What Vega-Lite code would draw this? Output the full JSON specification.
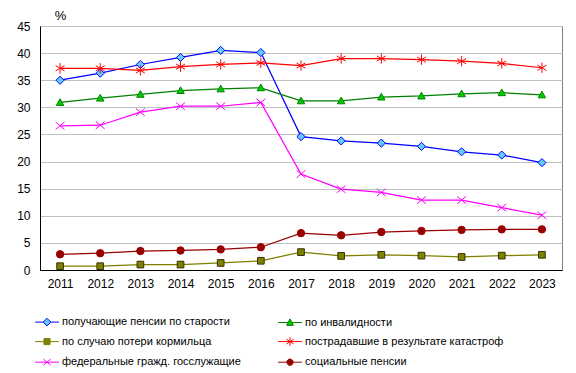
{
  "$schema": "https://vega.github.io/schema/vega-lite/v6.json",
  "autosize": "none",
  "padding": {"left": 40, "top": 26, "right": 14, "bottom": 103},
  "width": 522,
  "height": 244,
  "background": "white",
  "config": {
    "font": "Liberation Sans",
    "view": {"stroke": "#808080", "strokeWidth": 1},
    "axis": {"labelFont": "Liberation Sans", "labelFontSize": 12, "labelColor": "#000000", "ticks": false}
  },
  "data": {"values": [
    {"year": "2011", "series": "получающие пенсии по старости", "value": 35.0},
    {"year": "2012", "series": "получающие пенсии по старости", "value": 36.3},
    {"year": "2013", "series": "получающие пенсии по старости", "value": 37.9},
    {"year": "2014", "series": "получающие пенсии по старости", "value": 39.2},
    {"year": "2015", "series": "получающие пенсии по старости", "value": 40.5},
    {"year": "2016", "series": "получающие пенсии по старости", "value": 40.1},
    {"year": "2017", "series": "получающие пенсии по старости", "value": 24.6},
    {"year": "2018", "series": "получающие пенсии по старости", "value": 23.8},
    {"year": "2019", "series": "получающие пенсии по старости", "value": 23.4},
    {"year": "2020", "series": "получающие пенсии по старости", "value": 22.8},
    {"year": "2021", "series": "получающие пенсии по старости", "value": 21.8},
    {"year": "2022", "series": "получающие пенсии по старости", "value": 21.2},
    {"year": "2023", "series": "получающие пенсии по старости", "value": 19.8},
    {"year": "2011", "series": "по инвалидности", "value": 30.9},
    {"year": "2012", "series": "по инвалидности", "value": 31.7},
    {"year": "2013", "series": "по инвалидности", "value": 32.4},
    {"year": "2014", "series": "по инвалидности", "value": 33.1},
    {"year": "2015", "series": "по инвалидности", "value": 33.4},
    {"year": "2016", "series": "по инвалидности", "value": 33.6},
    {"year": "2017", "series": "по инвалидности", "value": 31.2},
    {"year": "2018", "series": "по инвалидности", "value": 31.2},
    {"year": "2019", "series": "по инвалидности", "value": 31.9},
    {"year": "2020", "series": "по инвалидности", "value": 32.1},
    {"year": "2021", "series": "по инвалидности", "value": 32.5},
    {"year": "2022", "series": "по инвалидности", "value": 32.7},
    {"year": "2023", "series": "по инвалидности", "value": 32.3},
    {"year": "2011", "series": "по случаю потери кормильца", "value": 0.7},
    {"year": "2012", "series": "по случаю потери кормильца", "value": 0.7},
    {"year": "2013", "series": "по случаю потери кормильца", "value": 1.0},
    {"year": "2014", "series": "по случаю потери кормильца", "value": 1.0},
    {"year": "2015", "series": "по случаю потери кормильца", "value": 1.3},
    {"year": "2016", "series": "по случаю потери кормильца", "value": 1.7},
    {"year": "2017", "series": "по случаю потери кормильца", "value": 3.3},
    {"year": "2018", "series": "по случаю потери кормильца", "value": 2.6},
    {"year": "2019", "series": "по случаю потери кормильца", "value": 2.8},
    {"year": "2020", "series": "по случаю потери кормильца", "value": 2.65},
    {"year": "2021", "series": "по случаю потери кормильца", "value": 2.4},
    {"year": "2022", "series": "по случаю потери кормильца", "value": 2.65},
    {"year": "2023", "series": "по случаю потери кормильца", "value": 2.8},
    {"year": "2011", "series": "пострадавшие в результате катастроф", "value": 37.2},
    {"year": "2012", "series": "пострадавшие в результате катастроф", "value": 37.2},
    {"year": "2013", "series": "пострадавшие в результате катастроф", "value": 36.8},
    {"year": "2014", "series": "пострадавшие в результате катастроф", "value": 37.5},
    {"year": "2015", "series": "пострадавшие в результате катастроф", "value": 37.9},
    {"year": "2016", "series": "пострадавшие в результате катастроф", "value": 38.2},
    {"year": "2017", "series": "пострадавшие в результате катастроф", "value": 37.7},
    {"year": "2018", "series": "пострадавшие в результате катастроф", "value": 39.0},
    {"year": "2019", "series": "пострадавшие в результате катастроф", "value": 39.0},
    {"year": "2020", "series": "пострадавшие в результате катастроф", "value": 38.8},
    {"year": "2021", "series": "пострадавшие в результате катастроф", "value": 38.5},
    {"year": "2022", "series": "пострадавшие в результате катастроф", "value": 38.1},
    {"year": "2023", "series": "пострадавшие в результате катастроф", "value": 37.3},
    {"year": "2011", "series": "федеральные гражд. госслужащие", "value": 26.6},
    {"year": "2012", "series": "федеральные гражд. госслужащие", "value": 26.7},
    {"year": "2013", "series": "федеральные гражд. госслужащие", "value": 29.1},
    {"year": "2014", "series": "федеральные гражд. госслужащие", "value": 30.2},
    {"year": "2015", "series": "федеральные гражд. госслужащие", "value": 30.2},
    {"year": "2016", "series": "федеральные гражд. госслужащие", "value": 30.9},
    {"year": "2017", "series": "федеральные гражд. госслужащие", "value": 17.7},
    {"year": "2018", "series": "федеральные гражд. госслужащие", "value": 14.9},
    {"year": "2019", "series": "федеральные гражд. госслужащие", "value": 14.3},
    {"year": "2020", "series": "федеральные гражд. госслужащие", "value": 12.9},
    {"year": "2021", "series": "федеральные гражд. госслужащие", "value": 12.9},
    {"year": "2022", "series": "федеральные гражд. госслужащие", "value": 11.5},
    {"year": "2023", "series": "федеральные гражд. госслужащие", "value": 10.1},
    {"year": "2011", "series": "социальные пенсии", "value": 2.9},
    {"year": "2012", "series": "социальные пенсии", "value": 3.1},
    {"year": "2013", "series": "социальные пенсии", "value": 3.5},
    {"year": "2014", "series": "социальные пенсии", "value": 3.6},
    {"year": "2015", "series": "социальные пенсии", "value": 3.8},
    {"year": "2016", "series": "социальные пенсии", "value": 4.2},
    {"year": "2017", "series": "социальные пенсии", "value": 6.8},
    {"year": "2018", "series": "социальные пенсии", "value": 6.4},
    {"year": "2019", "series": "социальные пенсии", "value": 7.0},
    {"year": "2020", "series": "социальные пенсии", "value": 7.2},
    {"year": "2021", "series": "социальные пенсии", "value": 7.4},
    {"year": "2022", "series": "социальные пенсии", "value": 7.5},
    {"year": "2023", "series": "социальные пенсии", "value": 7.5}
  ]},
  "encoding": {
    "x": {"field": "year", "type": "ordinal", "scale": {"type": "point", "padding": 0.5},
      "axis": {"title": null, "labelAngle": 0, "labelPadding": 8, "domainColor": "#000000", "grid": false}},
    "y": {"field": "value", "type": "quantitative", "scale": {"domain": [0, 45], "nice": false},
      "axis": {"values": [0, 5, 10, 15, 20, 25, 30, 35, 40, 45], "title": "%", "titleAngle": 0, "titleX": 20, "titleY": -11, "titleAlign": "center", "titleBaseline": "middle", "titleFontSize": 13, "titleFontWeight": "normal", "titleFont": "Liberation Sans", "labelPadding": 10, "domainColor": "#000000", "gridColor": "#c0c0c0", "grid": true}}
  },
  "layer": [
    {
      "mark": {"type": "line", "strokeWidth": 1.25},
      "encoding": {
        "stroke": {"field": "series", "type": "nominal", "legend": null,
          "scale": {"domain": ["получающие пенсии по старости", "по инвалидности", "по случаю потери кормильца", "пострадавшие в результате катастроф", "федеральные гражд. госслужащие", "социальные пенсии"],
            "range": ["#0000FF", "#008000", "#808000", "#FF0000", "#FF00FF", "#990000"]}}
      }
    },
    {
      "mark": {"type": "point", "filled": true, "opacity": 1, "size": 55, "strokeWidth": 1},
      "encoding": {
        "shape": {"field": "series", "type": "nominal", "legend": null,
          "scale": {"domain": ["получающие пенсии по старости", "по инвалидности", "по случаю потери кормильца", "пострадавшие в результате катастроф", "федеральные гражд. госслужащие", "социальные пенсии"],
            "range": ["M0,-1.1L1.1,0L0,1.1L-1.1,0Z", "M0,-1L1,0.8L-1,0.8Z", "M-0.9,-0.9L0.9,-0.9L0.9,0.9L-0.9,0.9Z", "M0,-1.4L0,1.4M-1.2,-0.7L1.2,0.7M-1.2,0.7L1.2,-0.7", "M-1.2,-1L1.2,1M-1.2,1L1.2,-1", "circle"]}},
        "fill": {"field": "series", "type": "nominal", "legend": null,
          "scale": {"domain": ["получающие пенсии по старости", "по инвалидности", "по случаю потери кормильца", "пострадавшие в результате катастроф", "федеральные гражд. госслужащие", "социальные пенсии"],
            "range": ["#66CCFF", "#00CC00", "#808000", "#FF0000", "#FF00FF", "#990000"]}},
        "stroke": {"field": "series", "type": "nominal", "legend": null,
          "scale": {"domain": ["получающие пенсии по старости", "по инвалидности", "по случаю потери кормильца", "пострадавшие в результате катастроф", "федеральные гражд. госслужащие", "социальные пенсии"],
            "range": ["#0000FF", "#008000", "#333300", "#FF0000", "#FF00FF", "#990000"]}}
      }
    },
    {
      "transform": [{"filter": "datum.value > 1000"}],
      "mark": {"type": "point", "filled": true, "opacity": 1, "strokeWidth": 1},
      "encoding": {
        "shape": {"field": "series", "type": "nominal",
          "scale": {"domain": ["получающие пенсии по старости", "по случаю потери кормильца", "федеральные гражд. госслужащие", "по инвалидности", "пострадавшие в результате катастроф", "социальные пенсии"],
            "range": [
              "M-1.25,0L-0.4,0M0.4,0L1.25,0M0,-0.4L0.4,0L0,0.4L-0.4,0Z",
              "M-1.25,0L-0.32,0M0.32,0L1.25,0M-0.32,-0.32L0.32,-0.32L0.32,0.32L-0.32,0.32Z",
              "M-1.25,0L1.25,0M-0.38,-0.32L0.38,0.32M-0.38,0.32L0.38,-0.32",
              "M-1.25,0L-0.2,0M0.2,0L1.25,0M0,-0.38L0.36,0.3L-0.36,0.3Z",
              "M-1.25,0L1.25,0M0,-0.45L0,0.45M-0.38,-0.25L0.38,0.25M-0.38,0.25L0.38,-0.25",
              "M-1.25,0L-0.33,0M0.33,0L1.25,0M0.33,0A0.33,0.33 0 1,1 -0.33,0A0.33,0.33 0 1,1 0.33,0Z"
            ]},
          "legend": {"title": null, "orient": "none", "legendX": -3, "legendY": 286, "columns": 2, "columnPadding": 35, "rowPadding": 3.6,
            "symbolSize": 361, "symbolStrokeWidth": 1, "labelFontSize": 11, "labelFont": "Liberation Sans", "labelColor": "#000000", "labelOffset": 5, "labelLimit": 300}},
        "fill": {"field": "series", "type": "nominal",
          "scale": {"domain": ["получающие пенсии по старости", "по случаю потери кормильца", "федеральные гражд. госслужащие", "по инвалидности", "пострадавшие в результате катастроф", "социальные пенсии"],
            "range": ["#66CCFF", "#808000", "#FF00FF", "#00CC00", "#FF0000", "#990000"]}},
        "stroke": {"field": "series", "type": "nominal",
          "scale": {"domain": ["получающие пенсии по старости", "по случаю потери кормильца", "федеральные гражд. госслужащие", "по инвалидности", "пострадавшие в результате катастроф", "социальные пенсии"],
            "range": ["#0000FF", "#808000", "#FF00FF", "#008000", "#FF0000", "#990000"]}}
      }
    }
  ],
  "resolve": {"scale": {"shape": "independent", "fill": "independent", "stroke": "independent"}, "legend": {"shape": "independent", "fill": "independent", "stroke": "independent"}}
}
